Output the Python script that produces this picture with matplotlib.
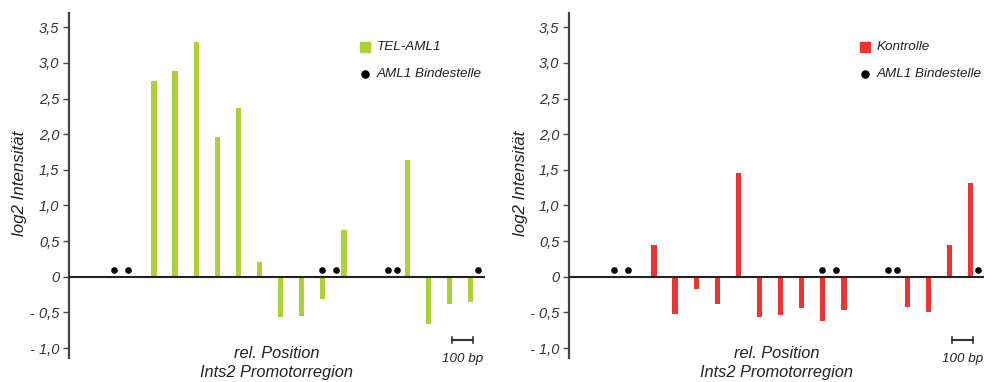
import matplotlib.pyplot as plt
import numpy as np

# relative position of each probe along the promoter (bp), spacing 100 bp
positions = [0, 100, 200, 300, 400, 500, 600, 700, 800, 900, 1200, 1300, 1400, 1500]
tel_aml1 = [2.75, 2.88, 3.30, 1.96, 2.37, 0.21, -0.56, -0.55, -0.31, 0.65, 1.64, -0.67, -0.38, -0.35]
kontrolle = [0.45, -0.52, -0.17, -0.38, 1.46, -0.57, -0.53, -0.44, -0.62, -0.46, -0.43, -0.50, 0.45, 1.32]
# AML1 binding sites
sites = [-191, -125, 795, 863, 1108, 1153, 1537]
site_level = 0.10

yticks = [3.5, 3.0, 2.5, 2.0, 1.5, 1.0, 0.5, 0, -0.5, -1.0]
yticklabels = ["3,5", "3,0", "2,5", "2,0", "1,5", "1,0", "0,5", "0", "- 0,5", "- 1,0"]

green = "#acd136"
red = "#ee3333"
plt.rcParams["font.family"] = ["Liberation Sans", "DejaVu Sans"]
plt.rcParams["font.style"] = "italic"

W, H = 984, 382
fig = plt.figure(figsize=(W / 100, H / 100), dpi=100)


def panel(x0, values, color, name):
    ax = fig.add_axes([x0 / W, 24 / H, 416 / W, 345 / H])
    ax.bar(positions, values, width=25, color=color, zorder=2)
    ax.axhline(0, color="#222222", lw=1.5, zorder=3)
    ax.scatter(sites, [site_level] * len(sites), s=14, color="black", zorder=4)
    ax.set_xlim(-403, 1569)
    ax.set_ylim(-1.14, 3.70)
    for s in ["top", "right", "bottom"]:
        ax.spines[s].set_visible(False)
    ax.spines["left"].set_linewidth(1.6)
    ax.spines["left"].set_color("#444444")
    ax.set_xticks([])
    ax.set_yticks(yticks)
    ax.set_yticklabels(yticklabels, fontsize=10.5, color="#333333")
    ax.tick_params(axis="y", length=4, width=1, color="#444444", pad=3)

    # legend
    ax.scatter([1001], [3.22], marker="s", s=44, color=color, clip_on=False)
    ax.text(1055, 3.22, name, fontsize=9.7, va="center", color="#222222")
    ax.scatter([1001], [2.85], s=26, color="black", clip_on=False)
    ax.text(1055, 2.85, "AML1 Bindestelle", fontsize=9.7, va="center", color="#222222")

    # 100 bp scale bar
    ax.plot([1411, 1513], [-0.89, -0.89], color="#333333", lw=1.5, clip_on=False)
    ax.plot([1411, 1411], [-0.85, -0.93], color="#333333", lw=1.2, clip_on=False)
    ax.plot([1513, 1513], [-0.85, -0.93], color="#333333", lw=1.2, clip_on=False)
    ax.text(1462, -1.16, "100 bp", fontsize=9.6, ha="center", va="center", color="#222222", clip_on=False)

    # axis labels
    fig.text((x0 + 208) / W, 1 - 353 / H, "rel. Position", fontsize=11.8, ha="center", va="center", color="#222222")
    fig.text((x0 + 208) / W, 1 - 373 / H, "Ints2 Promotorregion", fontsize=11.8, ha="center", va="center", color="#222222")
    fig.text((x0 - 49) / W, 1 - 183 / H, "log2 Intensität", fontsize=12.2, rotation=90, ha="center", va="center", color="#222222")
    return ax


panel(69, tel_aml1, green, "TEL-AML1")
panel(569, kontrolle, red, "Kontrolle")

fig.savefig("out.png", dpi=100)
